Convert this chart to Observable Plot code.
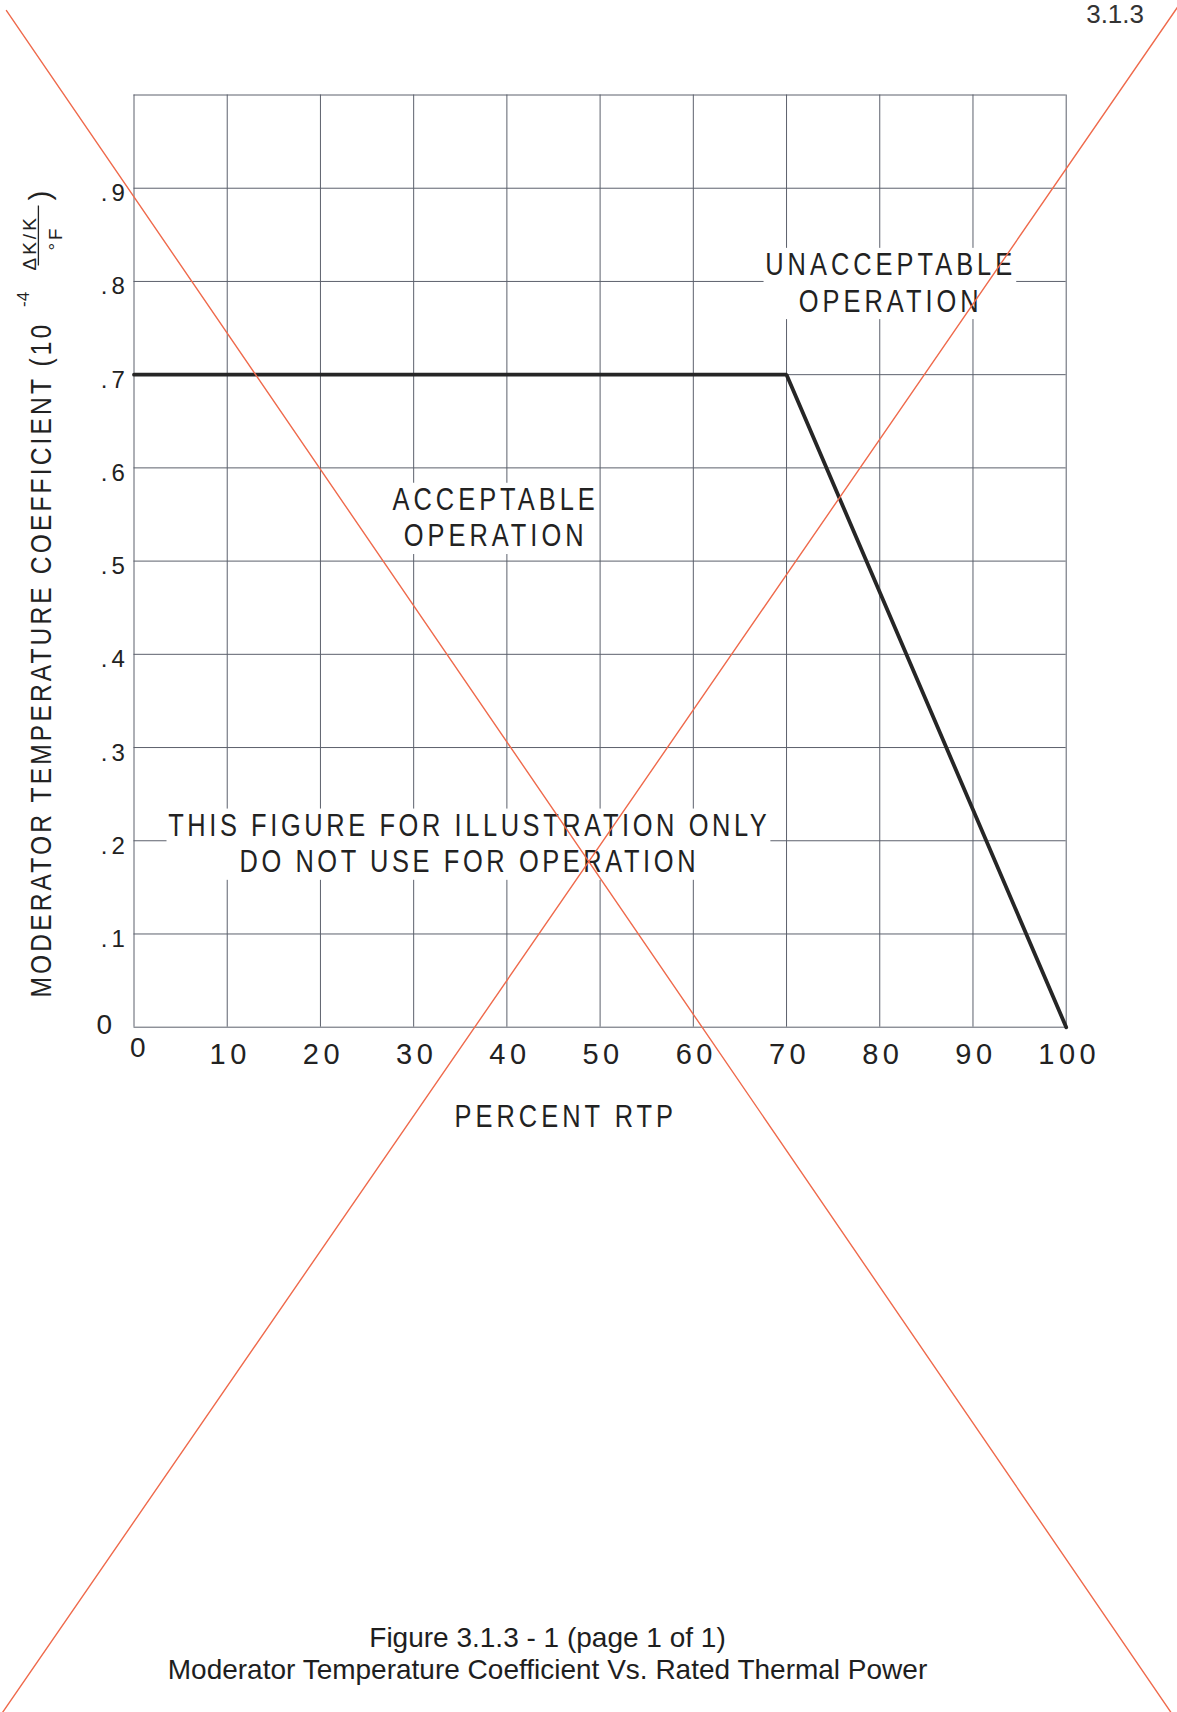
<!DOCTYPE html>
<html>
<head>
<meta charset="utf-8">
<script src="https://cdn.jsdelivr.net/npm/d3@7"></script>
<script src="https://cdn.jsdelivr.net/npm/@observablehq/plot@0.6"></script>
<style>
  html, body { margin: 0; padding: 0; background: #fff; }
  #page { position: relative; width: 1177px; height: 1712px; overflow: hidden; background: #fff; }
  #chart svg { position: absolute; left: 0; top: 0; }
  g.ls3 text { letter-spacing: 3px; }
  g.ls4 text { letter-spacing: 4px; }
  g.ls45 text { letter-spacing: 4.5px; }
  /* spacing for condensed lettering, given in the unscaled glyph frame */
  g.nls4 text { letter-spacing: 4.9px; }
  g.nls35 text { letter-spacing: 4.4px; }
  g.nls3 text { letter-spacing: 3.8px; }
  .pageno {
    position: absolute; right: 33px; top: -1.3px;
    font: 26px/30px "Liberation Sans", Arial, sans-serif; color: #333;
  }
  .caption {
    position: absolute; left: 0; width: 1095px; top: 1621.8px;
    text-align: center; font: 28px/32px "Liberation Sans", Arial, sans-serif; color: #1e1e1e;
  }
</style>
</head>
<body>
<div id="page">
  <div id="chart"></div>
  <div class="pageno">3.1.3</div>
  <div class="caption">Figure 3.1.3 - 1 (page 1 of 1)<br>Moderator Temperature Coefficient Vs. Rated Thermal Power</div>
</div>
<script>
// Percent rated thermal power (x) and moderator temperature coefficient limit (y, 10^-4 ΔK/K/°F)
const rtp = [0, 70, 100];
const mtc = [0.7, 0.7, 0];

// Grid and tick labels
const gridX = [0, 10, 20, 30, 40, 50, 60, 70, 80, 90, 100];
const gridY = [0, 0.1, 0.2, 0.3, 0.4, 0.5, 0.6, 0.7, 0.8, 0.9, 1.0];
const xTicks = [10, 20, 30, 40, 50, 60, 70, 80, 90, 100];
const xTickLabels = ["10", "20", "30", "40", "50", "60", "70", "80", "90", "100"];
const yTicks = [0.1, 0.2, 0.3, 0.4, 0.5, 0.6, 0.7, 0.8, 0.9];
const yTickLabels = [".1", ".2", ".3", ".4", ".5", ".6", ".7", ".8", ".9"];

// "Void" cross drawn over the sheet (end points in chart units)
const crossAx = [-13.68, 111.25];
const crossAy = [1.0906, -0.7352];
const crossBx = [-14.11, 111.94];
const crossBy = [-0.7352, 1.0942];

// Region notes
const noteText = [
  "UNACCEPTABLE\nOPERATION",
  "ACCEPTABLE\nOPERATION",
  "THIS FIGURE FOR ILLUSTRATION ONLY\nDO NOT USE FOR OPERATION"
];
const noteX = [80.96, 38.58, 35.75];
const noteY = [0.7677, 0.5157, 0.1662];

const LETTERS = '"Liberation Sans", Arial, Helvetica, sans-serif';
const DIGITS = '"Liberation Sans", Arial, Helvetica, sans-serif';
const CONDENSE = 0.82;   // horizontal squeeze of the drafting lettering
const INK = "#222";
const GRID = "#5c606c";
const RED = "#ef6a4c";

const curve = rtp.map((x, i) => ({x, y: mtc[i]}));
const notes = noteText.map((t, i) => ({t, x: noteX[i], y: noteY[i]}));
const regionNotes = notes.slice(0, 2);
const warningNote = notes.slice(2);
const crossA = crossAx.map((x, i) => ({x, y: crossAy[i]}));
const crossB = crossBx.map((x, i) => ({x, y: crossBy[i]}));

const FRAC = 19;  // size of the ΔK/K over °F unit

const noteStyle = {
  x: "x", y: "y", text: "t", textAnchor: "middle", lineAnchor: "bottom",
  lineHeight: 1.17, dx: 2, fontSize: 31, fontFamily: LETTERS, fill: INK
};

const chart = Plot.plot({
  width: 1177,
  height: 1712,
  marginTop: 94.5,
  marginLeft: 133.5,
  marginRight: 111.3,
  marginBottom: 685.3,
  x: {domain: [0, 100], axis: null},
  y: {domain: [0, 1], axis: null},
  style: {background: "transparent", overflow: "visible"},
  marks: [
    // grid (outer lines double as the frame)
    Plot.ruleX(gridX, {x: d => d, stroke: GRID, strokeWidth: 1}),
    Plot.ruleY(gridY, {y: d => d, stroke: GRID, strokeWidth: 1}),

    // x tick labels
    Plot.text(xTicks, {
      x: d => d, text: (d, i) => xTickLabels[i], frameAnchor: "bottom",
      lineAnchor: "bottom", dy: 36.8, dx: 3, textAnchor: "middle",
      fontSize: 29, fontFamily: DIGITS, fill: INK, className: "ls45"
    }),
    Plot.text(["0"], {
      frameAnchor: "bottom-left", text: d => d, lineAnchor: "bottom",
      dy: 29.3, dx: -3.9, textAnchor: "start",
      fontSize: 28, fontFamily: DIGITS, fill: INK
    }),

    // y tick labels
    Plot.text(yTicks, {
      y: d => d, text: (d, i) => yTickLabels[i], frameAnchor: "left",
      lineAnchor: "bottom", dy: 13, dx: -5.2, textAnchor: "end",
      fontSize: 24, fontFamily: DIGITS, fill: INK, className: "ls4"
    }),
    Plot.text(["0"], {
      frameAnchor: "bottom-left", text: d => d, lineAnchor: "bottom",
      dy: 6.3, dx: -37.6, textAnchor: "start",
      fontSize: 28, fontFamily: DIGITS, fill: INK
    }),

    // x axis title
    Plot.text(["PERCENT RTP"], {
      frameAnchor: "bottom", text: d => d, lineAnchor: "bottom",
      dy: 99.3, dx: -34.3, textAnchor: "middle",
      fontSize: 31, fontFamily: LETTERS, fill: INK, className: "nls4 narrow"
    }),

    // y axis title, read bottom to top
    Plot.text(["MODERATOR TEMPERATURE COEFFICIENT (10"], {
      frameAnchor: "top-left", text: d => d, rotate: -90, textAnchor: "start",
      lineAnchor: "bottom", dx: -83.5, dy: 902.5,
      fontSize: 30, fontFamily: LETTERS, fill: INK, className: "nls3 narrow"
    }),
    Plot.text(["-4"], {
      frameAnchor: "top-left", text: d => d, rotate: -90, textAnchor: "start",
      lineAnchor: "bottom", dx: -105, dy: 212,
      fontSize: 17, fontFamily: DIGITS, fill: INK
    }),
    Plot.text(["\u0394K/K"], {
      frameAnchor: "top-left", text: d => d, rotate: -90, textAnchor: "start",
      lineAnchor: "bottom", dx: -98.5, dy: 175.5,
      fontSize: FRAC, fontFamily: LETTERS, fill: INK, className: "ls3 frac"
    }),
    Plot.text(["\u00B0F"], {
      frameAnchor: "top-left", text: d => d, rotate: -90, textAnchor: "start",
      lineAnchor: "bottom", dx: -72, dy: 155.5,
      fontSize: FRAC, fontFamily: LETTERS, fill: INK, className: "ls3"
    }),
    Plot.text([")"], {
      frameAnchor: "top-left", text: d => d, rotate: -90, textAnchor: "start",
      lineAnchor: "bottom", dx: -84.5, dy: 105.5,
      fontSize: 30, fontFamily: LETTERS, fill: INK
    }),

    // limit curve
    Plot.line(curve, {x: "x", y: "y", stroke: "#262626", strokeWidth: 3.8, strokeLinejoin: "miter"}),

    // region notes on white panels
    Plot.text(regionNotes, {...noteStyle, className: "nls4 narrow boxed"}),
    Plot.text(warningNote, {...noteStyle, className: "nls35 narrow boxed"}),

    // void cross
    Plot.line(crossA, {x: "x", y: "y", stroke: RED, strokeWidth: 1.4}),
    Plot.line(crossB, {x: "x", y: "y", stroke: RED, strokeWidth: 1.4})
  ]
});

document.getElementById("chart").append(chart);

const SVGNS = "http://www.w3.org/2000/svg";

// condense the drafting lettering along its reading direction
chart.querySelectorAll("g.narrow text").forEach(t => {
  const x = +(t.getAttribute("x") || 0), y = +(t.getAttribute("y") || 0);
  t.removeAttribute("x"); t.removeAttribute("y");
  const tr = t.getAttribute("transform") || "";
  t.setAttribute("transform", `translate(${x},${y}) ${tr} scale(${CONDENSE},1)`);
});

// fraction bar between ΔK/K and °F
chart.querySelectorAll("g.frac text").forEach(t => {
  const b = t.getBBox();
  const base = b.y + 0.905 * FRAC;   // baseline in the text's own frame
  const l = document.createElementNS(SVGNS, "line");
  l.setAttribute("x1", b.x + 5);
  l.setAttribute("x2", b.x + 65);
  l.setAttribute("y1", base + 2.7);
  l.setAttribute("y2", base + 2.7);
  l.setAttribute("stroke", INK);
  l.setAttribute("stroke-width", 1.3);
  l.setAttribute("transform", t.getAttribute("transform"));
  t.parentNode.appendChild(l);
});

// white panels behind the region notes, sized from each note's own box
chart.querySelectorAll("g.boxed text").forEach(t => {
  const b = t.getBBox();
  const r = document.createElementNS(SVGNS, "rect");
  r.setAttribute("x", b.x - 2);
  r.setAttribute("y", b.y + 1);
  r.setAttribute("width", b.width + 2);
  r.setAttribute("height", b.height);
  r.setAttribute("fill", "#fff");
  r.setAttribute("transform", t.getAttribute("transform"));
  t.parentNode.insertBefore(r, t);
});
</script>
</body>
</html>
